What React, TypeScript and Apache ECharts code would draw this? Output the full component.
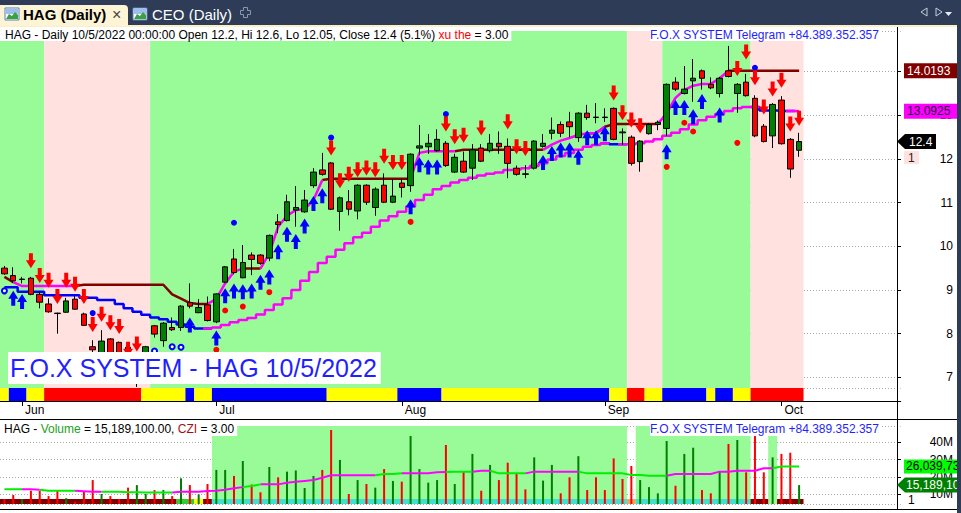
import React, { useEffect, useRef } from 'react';
import * as echarts from 'echarts';

// ---------------- data ----------------
const dates = [
  '5/30', '5/31',
  '6/1', '6/2', '6/3', '6/6', '6/7', '6/8', '6/9', '6/10', '6/13', '6/14', '6/15', '6/16', '6/17', '6/20', '6/21', '6/22', '6/23', '6/24', '6/27', '6/28', '6/29', '6/30',
  '7/1', '7/4', '7/5', '7/6', '7/7', '7/8', '7/11', '7/12', '7/13', '7/14', '7/15', '7/18', '7/19', '7/20', '7/21', '7/22', '7/25', '7/26', '7/27', '7/28', '7/29',
  '8/1', '8/2', '8/3', '8/4', '8/5', '8/8', '8/9', '8/10', '8/11', '8/12', '8/15', '8/16', '8/17', '8/18', '8/19', '8/22', '8/23', '8/24', '8/25', '8/26', '8/29', '8/30', '8/31',
  '9/5', '9/6', '9/7', '9/8', '9/9', '9/12', '9/13', '9/14', '9/15', '9/16', '9/19', '9/20', '9/21', '9/22', '9/23', '9/26', '9/27', '9/28', '9/29', '9/30',
  '10/3', '10/4', '10/5',
];
const monthTicks: [number, string][] = [[2, 'Jun'], [24, 'Jul'], [45, 'Aug'], [68, 'Sep'], [88, 'Oct']];

const open = [9.50, 9.33, 9.24, 9.27, 8.90, 8.68, 8.47, 8.49, 8.79, 8.45, 7.70, 7.50, 7.88, 7.80, 7.69, 7.20, 7.40, 8.18, 7.84, 8.14, 8.14, 8.71, 8.48, 8.66, 8.27, 9.18, 9.71, 9.28, 9.80, 9.80, 9.73, 10.56, 10.59, 10.83, 10.79, 11.39, 11.75, 11.91, 10.80, 11.02, 10.81, 11.40, 10.89, 11.40, 11.01, 11.45, 11.39, 12.25, 12.28, 12.19, 12.36, 11.70, 11.95, 11.79, 12.25, 12.19, 12.36, 12.29, 11.79, 11.66, 11.79, 12.29, 12.59, 12.79, 12.85, 12.49, 13.05, 12.96, 12.96, 13.16, 12.62, 12.50, 11.94, 12.58, 12.79, 12.70, 13.76, 13.50, 13.79, 14.02, 13.71, 13.50, 14.02, 13.50, 13.76, 13.39, 12.75, 12.53, 13.35, 12.45, 12.20];
const high = [9.55, 9.52, 9.30, 9.30, 8.96, 8.81, 8.48, 8.82, 8.86, 8.48, 7.85, 8.08, 7.90, 7.82, 7.72, 7.50, 7.72, 8.20, 8.26, 8.37, 8.65, 9.15, 8.79, 8.85, 8.92, 9.55, 9.94, 10.03, 9.86, 9.82, 10.27, 10.74, 11.18, 11.38, 11.29, 11.79, 12.14, 11.93, 11.14, 11.29, 11.42, 11.42, 11.35, 11.67, 11.54, 11.54, 12.13, 12.78, 12.57, 12.68, 12.41, 12.12, 12.17, 12.34, 12.34, 12.57, 12.63, 12.47, 11.85, 11.86, 12.43, 12.57, 12.95, 12.86, 13.08, 13.07, 13.24, 13.28, 13.16, 13.18, 12.70, 12.54, 12.43, 12.82, 12.88, 13.73, 13.87, 14.13, 14.29, 14.05, 13.87, 13.88, 14.59, 13.74, 13.95, 13.46, 12.80, 13.28, 13.44, 12.48, 12.60];
const low = [9.35, 9.16, 9.15, 8.88, 8.58, 8.48, 8.00, 8.48, 8.55, 8.18, 7.55, 7.45, 7.50, 7.45, 7.30, 6.78, 7.35, 7.91, 7.70, 8.06, 8.06, 8.58, 8.47, 8.28, 8.24, 9.16, 9.36, 9.27, 9.34, 9.58, 9.66, 10.30, 10.57, 10.45, 10.77, 11.34, 11.62, 10.83, 10.36, 10.71, 10.62, 10.95, 10.70, 10.99, 10.99, 11.12, 11.25, 12.09, 12.12, 12.17, 11.82, 11.68, 11.68, 11.52, 11.93, 12.15, 12.12, 11.56, 11.62, 11.56, 11.76, 12.26, 12.45, 12.50, 12.50, 12.39, 12.90, 12.82, 12.85, 12.43, 12.32, 11.85, 11.71, 12.56, 12.66, 12.53, 13.56, 13.48, 13.31, 13.59, 13.60, 13.41, 13.87, 13.06, 13.43, 12.50, 12.38, 12.25, 12.33, 11.57, 12.05];
const close = [9.37, 9.21, 9.25, 8.90, 8.72, 8.50, 8.46, 8.75, 8.56, 8.19, 7.63, 7.83, 7.55, 7.50, 7.40, 7.45, 7.70, 7.99, 8.24, 8.09, 8.63, 8.63, 8.60, 8.30, 8.91, 9.53, 9.40, 9.63, 9.70, 9.61, 10.25, 10.50, 11.02, 10.89, 11.06, 11.70, 11.65, 10.85, 11.11, 10.85, 11.40, 11.01, 11.31, 11.01, 11.15, 11.35, 12.11, 12.30, 12.36, 12.45, 11.85, 12.04, 11.70, 12.21, 11.95, 12.36, 12.28, 11.90, 11.65, 11.65, 12.41, 12.36, 12.66, 12.59, 12.74, 13.05, 12.95, 12.95, 12.95, 12.45, 12.60, 11.90, 12.41, 12.79, 12.84, 13.71, 13.60, 13.60, 13.85, 13.85, 13.63, 13.85, 13.89, 13.71, 13.45, 12.53, 12.40, 13.25, 12.35, 11.77, 12.40];

// volume in millions
const volumeM = [7.1, 9.4, 7.1, 11.9, 11.9, 8.8, 11.9, 7.6, 5.5, 11.3, 18.1, 10.0, 8.8, 7.1, 13.7, 15.2, 10.0, 12.3, 12.3, 8.8, 19.1, 15.2, 9.8, 15.8, 24.0, 24.0, 20.5, 29.2, 15.5, 11.0, 25.7, 19.7, 23.0, 23.7, 13.5, 20.5, 24.0, 47.2, 29.8, 10.0, 18.1, 15.8, 13.7, 24.5, 17.6, 17.2, 43.7, 24.5, 16.6, 18.1, 38.5, 15.8, 23.0, 33.3, 11.9, 26.9, 18.1, 28.2, 22.0, 12.7, 31.3, 17.8, 26.9, 10.4, 19.7, 32.0, 12.3, 19.7, 12.3, 30.7, 18.7, 26.3, 18.1, 14.0, 10.4, 40.8, 14.8, 33.3, 36.9, 12.3, 10.4, 23.4, 39.1, 41.4, 22.6, 43.7, 22.6, 31.3, 33.3, 34.0, 15.1891];
const volumeMA = [12.7, 12.7, 12.7, 12.7, 12.5, 11.9, 11.9, 11.9, 11.9, 11.6, 11.3, 11.3, 11.3, 11.3, 11.0, 11.0, 10.9, 10.9, 10.9, 10.9, 11.3, 11.3, 11.3, 11.7, 11.9, 12.5, 13.3, 14.0, 14.6, 15.6, 15.6, 15.6, 16.5, 17.1, 17.6, 18.1, 19.5, 20.9, 20.9, 20.9, 20.9, 20.9, 20.9, 21.6, 21.6, 22.0, 22.0, 22.0, 22.0, 22.6, 22.8, 23.0, 23.0, 23.0, 23.5, 23.5, 22.0, 22.0, 22.0, 22.0, 23.0, 23.0, 23.0, 23.0, 23.0, 23.0, 22.0, 22.0, 22.0, 22.0, 22.0, 21.0, 21.0, 20.6, 20.6, 20.6, 21.6, 21.6, 21.6, 21.6, 21.6, 23.0, 23.0, 23.5, 23.5, 23.5, 25.0, 25.0, 26.0, 26.0, 26.04];

const upperLine = [9.30, 9.18, 9.09, 9.09, 9.09, 9.09, 9.09, 9.09, 9.09, 9.12, 9.12, 9.12, 9.12, 9.12, 9.12, 9.12, 9.12, 9.12, 9.12, 8.90, 8.80, 8.70, 8.68, 8.68, 8.80, 9.15, 9.42, 9.49, 9.49, 9.49, 9.84, 10.45, 10.70, 10.83, 10.85, 11.06, 11.52, 11.55, 11.55, 11.55, 11.55, 11.55, 11.55, 11.55, 11.55, 11.55, 11.55, 12.14, 12.18, 12.18, 12.18, 12.18, 12.21, 12.21, 12.21, 12.21, 12.21, 12.21, 12.21, 12.21, 12.21, 12.21, 12.33, 12.42, 12.48, 12.55, 12.59, 12.59, 12.74, 12.80, 12.80, 12.80, 12.80, 12.80, 12.80, 13.05, 13.40, 13.58, 13.68, 13.72, 13.72, 13.85, 14.02, 14.02, 14.02, 14.02, 14.02, 14.02, 14.02, 14.02, 14.0193];
const lowerLine = [9.06, 9.06, 8.96, 8.96, 8.96, 8.88, 8.88, 8.88, 8.88, 8.82, 8.82, 8.77, 8.77, 8.68, 8.58, 8.50, 8.43, 8.37, 8.33, 8.27, 8.21, 8.16, 8.12, 8.12, 8.14, 8.20, 8.26, 8.31, 8.36, 8.44, 8.54, 8.67, 8.81, 9.00, 9.21, 9.41, 9.62, 9.76, 9.92, 10.07, 10.21, 10.31, 10.45, 10.59, 10.69, 10.79, 10.91, 11.06, 11.18, 11.31, 11.38, 11.46, 11.52, 11.57, 11.62, 11.66, 11.69, 11.75, 11.76, 11.79, 11.84, 11.90, 11.99, 12.07, 12.14, 12.21, 12.28, 12.32, 12.36, 12.34, 12.34, 12.34, 12.36, 12.40, 12.45, 12.53, 12.60, 12.68, 12.79, 12.89, 12.97, 13.03, 13.10, 13.16, 13.19, 13.19, 13.11, 13.11, 13.10, 13.10, 13.0925];

type Run = [number, number, string];
const upperColorRuns: Run[] = [[0, 1, 'R'], [2, 8, 'M'], [9, 23, 'R'], [24, 27, 'M'], [28, 29, 'R'], [30, 36, 'M'], [37, 46, 'R'], [47, 51, 'M'], [52, 61, 'R'], [62, 66, 'M'], [67, 67, 'R'], [68, 68, 'M'], [69, 74, 'R'], [75, 82, 'M'], [83, 90, 'R']];
const lowerColorRuns: Run[] = [[0, 23, 'B'], [24, 68, 'M'], [69, 70, 'B'], [71, 85, 'M'], [86, 89, 'B'], [90, 90, 'M']];
const volumeMAColorRuns: Run[] = [[0, 2, 'G'], [3, 4, 'M'], [5, 8, 'G'], [9, 11, 'M'], [12, 19, 'G'], [20, 27, 'M'], [28, 29, 'G'], [30, 42, 'M'], [43, 45, 'G'], [46, 50, 'M'], [51, 53, 'G'], [54, 55, 'M'], [56, 59, 'G'], [60, 65, 'M'], [66, 75, 'G'], [76, 87, 'M'], [88, 90, 'G']];
const priceBandRuns: Run[] = [[0, 4, 'G'], [5, 16, 'P'], [17, 70, 'G'], [71, 74, 'P'], [75, 84, 'G'], [85, 90, 'P']];
const volumeBandRuns: Run[] = [[24, 70, 'G'], [72, 84, 'G'], [87, 87, 'G']];
const priceRibbonRuns: Run[] = [[0, 0, 'Y'], [1, 2, 'B'], [3, 4, 'Y'], [5, 15, 'R'], [16, 20, 'Y'], [21, 21, 'B'], [22, 23, 'Y'], [24, 36, 'B'], [37, 44, 'Y'], [45, 49, 'B'], [50, 60, 'Y'], [61, 68, 'B'], [69, 70, 'Y'], [71, 72, 'R'], [73, 74, 'Y'], [75, 79, 'B'], [80, 80, 'Y'], [81, 82, 'B'], [83, 84, 'Y'], [85, 90, 'R']];
const volumeRibbonRuns: Run[] = [[0, 19, 'D'], [20, 21, 'G'], [22, 22, 'Y'], [23, 23, 'D'], [24, 70, 'C'], [71, 71, 'O'], [72, 84, 'C'], [85, 86, 'D'], [88, 90, 'D']];

const redDownArrows = [[3, 9.50], [4, 9.16], [5, 9.05], [6, 8.68], [7, 9.05], [8, 8.96], [9, 8.68], [10, 8.04], [11, 8.27], [12, 8.08], [13, 7.99], [14, 7.47], [15, 7.59], [37, 12.08], [38, 11.33], [39, 11.48], [40, 11.58], [41, 11.62], [42, 11.58], [43, 11.89], [44, 11.75], [45, 11.75], [50, 12.63], [51, 12.34], [52, 12.37], [54, 12.54], [57, 12.68], [58, 12.11], [59, 12.07], [69, 13.34], [70, 12.89], [71, 12.72], [72, 12.59], [83, 13.90], [84, 14.28], [85, 13.69], [86, 13.02], [87, 13.43], [88, 13.63], [89, 12.63], [90, 12.76]];
const blueUpArrows = [[1, 8.98], [2, 8.91], [21, 8.37], [24, 8.07], [25, 9.04], [26, 9.15], [27, 9.13], [28, 9.15], [29, 9.35], [30, 9.47], [31, 10.05], [32, 10.45], [33, 10.28], [34, 10.64], [35, 11.15], [36, 11.33], [46, 11.08], [47, 12.04], [48, 11.99], [49, 11.99], [61, 12.09], [62, 12.30], [63, 12.38], [64, 12.38], [65, 12.21], [66, 12.66], [67, 12.66], [68, 12.75], [75, 12.34], [76, 13.35], [77, 13.35], [78, 13.14], [79, 13.49], [81, 13.18]];
const redDots = [[24, 7.63], [25, 8.53], [27, 8.62], [30, 8.95], [46, 10.56], [75, 11.82], [77, 12.83], [78, 12.63], [83, 12.37]];
const blueDots = [[10, 8.47], [26, 10.54], [37, 12.49], [50, 13.03], [85, 14.09]];
const blueRings = [[0, 8.98], [17, 7.60], [19, 7.70], [20, 7.69]];

const tagUpper = 14.0193;
const tagLower = 13.0925;
const tagClose = 12.4;
const tagVolumeMA = 26039734;
const tagVolume = 15189100;

// ---------------- layout / style ----------------
const N = dates.length;
const PAD = 11;
const categories = dates.concat(Array.from({ length: PAD }, (_, k) => `+${k + 1}`));
const FF = '"Liberation Sans", Arial, Helvetica, sans-serif';
const GRID_W = 900.66;
const AXIS_SHIFT = -3.66;
const P_MIN = 6.755, P_MAX = 14.932;
const V_MIN = 4.19e6, V_MAX = 49.53e6;
const NAVY = '#2e3c58';
const tickIdx = new Map<number, string>(monthTicks);

const DOWN_ARROW = 'path://M3,0L7,0L7,7L10,7L5,15L0,7L3,7Z';
const UP_ARROW = 'path://M5,0L10,8L7,8L7,15L3,15L3,8L0,8Z';

function flags(runs: Run[]) {
  const f: string[] = new Array(N).fill('');
  runs.forEach(([s, e, c]) => { for (let i = s; i <= e; i++) f[i] = c; });
  return f;
}

function runSeries(runs: Run[], colors: Record<string, string>, axis: number, z: number) {
  return {
    type: 'custom', xAxisIndex: axis, yAxisIndex: axis, z, silent: true, clip: false,
    data: runs.map((r) => [r[0], r[1]]),
    renderItem: (params: any, api: any) => {
      const [s, e, c] = runs[params.dataIndex];
      const cs = params.coordSys;
      const bw = api.size([1, 0])[0];
      const x0 = api.coord([s, 0])[0] - bw / 2;
      const x1 = api.coord([e, 0])[0] + bw / 2;
      return { type: 'rect', shape: { x: x0, y: cs.y, width: x1 - x0, height: cs.height }, style: { fill: colors[c] } };
    },
  };
}

function coloredLines(values: number[], runs: Run[], colors: Record<string, string>, axis: number, z: number, width: number, step?: string) {
  const f = flags(runs);
  return Object.keys(colors).map((c) => ({
    type: 'line', xAxisIndex: axis, yAxisIndex: axis, z, silent: true, symbol: 'none', connectNulls: false,
    step: step || false,
    lineStyle: { color: colors[c], width },
    emphasis: { disabled: true },
    data: values.map((v, i) => (f[i] === c || f[i + 1] === c ? v : null)),
  }));
}

function scatter(data: number[][], symbol: string, size: any, color: string, offset: any, z = 6) {
  return {
    type: 'scatter', xAxisIndex: 0, yAxisIndex: 0, z, silent: true, symbol, symbolSize: size,
    symbolOffset: offset, itemStyle: { color, opacity: 1 }, emphasis: { disabled: true }, data,
  };
}

const hiddenX = (k: number) => ({ type: 'category', gridIndex: k, data: categories, boundaryGap: true, show: false });

const option: any = {
  animation: false,
  backgroundColor: '#ffffff',
  grid: [
    { left: 0, top: 31, width: GRID_W, height: 357, containLabel: false, outerBoundsMode: 'none' },
    { left: 0, top: 388, width: GRID_W, height: 13, containLabel: false, outerBoundsMode: 'none' },
    { left: 0, top: 426, width: GRID_W, height: 78, containLabel: false, outerBoundsMode: 'none' },
    { left: 0, top: 499, width: GRID_W, height: 5, containLabel: false, outerBoundsMode: 'none' },
  ],
  xAxis: [
    hiddenX(0),
    {
      type: 'category', gridIndex: 1, data: categories, boundaryGap: true,
      axisLine: { show: true, onZero: false, lineStyle: { color: '#000', width: 1 } },
      axisTick: { show: true, alignWithLabel: true, length: 5, interval: (i: number) => tickIdx.has(i), lineStyle: { color: '#000' } },
      axisLabel: {
        show: true, interval: (i: number) => tickIdx.has(i), formatter: (_v: string, i: number) => tickIdx.get(i) || '',
        color: '#000', fontSize: 12, fontFamily: FF, align: 'left', margin: 3, padding: [0, 0, 0, 3],
      },
      splitLine: { show: false },
    },
    hiddenX(2),
    hiddenX(3),
  ],
  yAxis: [
    {
      type: 'value', gridIndex: 0, position: 'right', offset: AXIS_SHIFT, min: P_MIN, max: P_MAX, splitNumber: 8,
      axisLine: { show: false }, axisTick: { show: true, length: 4, lineStyle: { color: '#000' } },
      axisLabel: { color: '#000', fontSize: 12, fontFamily: FF, align: 'right', margin: 56, showMinLabel: false, showMaxLabel: false },
      splitLine: { show: true, lineStyle: { color: '#a8a8a8', type: [1, 2], width: 1 } },
    },
    { type: 'value', gridIndex: 1, min: 0, max: 1, show: false },
    {
      type: 'value', gridIndex: 2, position: 'right', offset: AXIS_SHIFT, min: V_MIN, max: V_MAX, splitNumber: 4,
      axisLine: { show: false }, axisTick: { show: true, length: 4, lineStyle: { color: '#000' } },
      axisLabel: { color: '#000', fontSize: 12, fontFamily: FF, align: 'right', margin: 56, showMinLabel: false, showMaxLabel: false, formatter: (v: number) => `${Math.round(v / 1e6)}M` },
      splitLine: { show: true, lineStyle: { color: '#a8a8a8', type: [1, 2], width: 1 } },
    },
    { type: 'value', gridIndex: 3, min: 0, max: 1, show: false },
  ],
  series: [
    runSeries(priceBandRuns, { G: '#98fb98', P: '#ffe2df' }, 0, 1),
    ...coloredLines(upperLine, upperColorRuns, { R: '#800000', M: '#ff00ff' }, 0, 3, 2.5),
    ...coloredLines(lowerLine, lowerColorRuns, { B: '#0000ff', M: '#ff00ff' }, 0, 3, 2.5, 'middle'),
    {
      type: 'candlestick', xAxisIndex: 0, yAxisIndex: 0, z: 4, silent: true, barWidth: 6,
      itemStyle: { color: '#008000', color0: '#ff0000', borderColor: '#000000', borderColor0: '#000000', borderColorDoji: '#000000', borderWidth: 1 },
      emphasis: { disabled: true },
      data: dates.map((_, i) => [open[i], close[i], low[i], high[i]]),
    },
    scatter(redDots, 'circle', 6, '#ff0000', [0, 0]),
    scatter(blueDots, 'circle', 6, '#0000ff', [0, 0]),
    scatter(blueRings, 'emptyCircle', 5, '#0000ff', [0, 0]),
    scatter(blueUpArrows, UP_ARROW, [10, 15], '#0000ff', [0, 7.5]),
    scatter(redDownArrows, DOWN_ARROW, [10, 15], '#ff0000', [0, -7.5]),
    runSeries(priceRibbonRuns, { Y: '#ffff00', B: '#0000ff', R: '#ff0000' }, 1, 2),
    runSeries(volumeBandRuns, { G: '#98fb98' }, 2, 1),
    runSeries(volumeRibbonRuns, { D: '#800000', G: '#33cc33', Y: '#ffff00', C: '#40e0d0', O: '#f4a460' }, 3, 2),
    {
      type: 'bar', xAxisIndex: 2, yAxisIndex: 2, z: 3, silent: true, barWidth: 2,
      emphasis: { disabled: true },
      data: volumeM.map((v, i) => ({ value: v * 1e6, itemStyle: { color: close[i] >= open[i] ? '#008000' : '#ff0000' } })),
    },
    ...coloredLines(volumeMA.map((v) => v * 1e6), volumeMAColorRuns, { G: '#00ee00', M: '#ff00ff' }, 2, 4, 2),
  ],
};

// ---------------- graphics helpers ----------------
const txt = (x: number, y: number, text: string, o: any = {}) => ({
  type: 'text', x, y, z: o.z ?? 102, silent: true,
  style: {
    text, fill: o.fill ?? '#000', fontSize: o.size ?? 12, fontFamily: FF, fontWeight: o.weight ?? 'normal',
    align: o.align ?? 'left', textAlign: o.align ?? 'left',
    verticalAlign: o.va ?? 'middle', textVerticalAlign: o.va ?? 'middle',
    ...(o.style || {}),
  },
});

const icon = (x: number, y: number) => [
  { type: 'rect', z: 101, silent: true, shape: { x, y, width: 14, height: 12 }, style: { fill: '#ffffff', stroke: '#5b7fb8', lineWidth: 1 } },
  { type: 'rect', z: 101, silent: true, shape: { x: x + 1, y: y + 1, width: 12, height: 5 }, style: { fill: '#9cc0ee' } },
  { type: 'polygon', z: 101, silent: true, shape: { points: [[x + 1, y + 11], [x + 4, y + 6], [x + 7, y + 8], [x + 10, y + 4], [x + 13, y + 7], [x + 13, y + 11]] }, style: { fill: '#3aa040' } },
];

const staticGraphics: any[] = [
  { type: 'rect', z: 100, silent: true, shape: { x: 0, y: 0, width: 961, height: 25 }, style: { fill: NAVY } },
  { type: 'rect', z: 100, silent: true, shape: { x: 0, y: 25, width: 961, height: 2 }, style: { fill: '#fbefc8' } },
  { type: 'rect', z: 100, silent: true, shape: { x: 0, y: 5, width: 128, height: 21, r: [0, 4, 0, 0] }, style: { fill: '#fdf4d6' } },
  ...icon(5, 8),
  txt(23, 14, 'HAG (Daily)', { size: 15, weight: 'bold' }),
  txt(112, 14, '×', { size: 16, fill: '#444' }),
  ...icon(133, 8),
  txt(152, 14, 'CEO (Daily)', { size: 15, fill: '#ffffff' }),
  { type: 'polygon', z: 101, silent: true, shape: { points: [[243.5, 7.5], [247.5, 7.5], [247.5, 10.5], [250.5, 10.5], [250.5, 14.5], [247.5, 14.5], [247.5, 17.5], [243.5, 17.5], [243.5, 14.5], [240.5, 14.5], [240.5, 10.5], [243.5, 10.5]] }, style: { fill: 'none', stroke: '#8d97ab', lineWidth: 1 } },
  { type: 'polygon', z: 101, silent: true, shape: { points: [[927, 8], [921, 12], [927, 16]] }, style: { fill: 'none', stroke: '#c8cfdc', lineWidth: 1 } },
  { type: 'polygon', z: 101, silent: true, shape: { points: [[936, 8], [942, 12], [936, 16]] }, style: { fill: 'none', stroke: '#c8cfdc', lineWidth: 1 } },
  { type: 'polygon', z: 101, silent: true, shape: { points: [[945, 12], [952, 12], [948.5, 16]] }, style: { fill: '#e8ecf4' } },
  // frame lines
  { type: 'line', z: 100, silent: true, shape: { x1: 897.5, y1: 27, x2: 897.5, y2: 510 }, style: { stroke: '#000', lineWidth: 1 } },
  { type: 'line', z: 100, silent: true, shape: { x1: 0, y1: 419.5, x2: 957, y2: 419.5 }, style: { stroke: '#000', lineWidth: 1 } },
  { type: 'line', z: 100, silent: true, shape: { x1: 0, y1: 509.5, x2: 957, y2: 509.5 }, style: { stroke: '#000', lineWidth: 1 } },
  // headers
  {
    type: 'text', x: 0, y: 28, z: 102, silent: true,
    style: {
      text: '{a|HAG - Daily 10/5/2022 00:00:00 Open 12.2, Hi 12.6, Lo 12.05, Close 12.4 (5.1%) }{r|xu the}{a| = 3.00}',
      rich: { a: { fill: '#000', fontSize: 12, fontFamily: FF, lineHeight: 13 }, r: { fill: '#ff0000', fontSize: 12, fontFamily: FF, lineHeight: 13 } },
      backgroundColor: '#ffffff', padding: [0, 3, 0, 5], verticalAlign: 'top', textVerticalAlign: 'top',
    },
  },
  txt(650, 28, 'F.O.X SYSTEM Telegram +84.389.352.357', { fill: '#1f1fff', va: 'top', style: { backgroundColor: '#ffffff', lineHeight: 13, padding: [0, 2, 0, 0] } }),
  {
    type: 'text', x: 0, y: 422, z: 102, silent: true,
    style: {
      text: '{a|HAG - }{g|Volume}{a| = 15,189,100.00, }{r|CZI}{a| = 3.00}',
      rich: {
        a: { fill: '#000', fontSize: 12, fontFamily: FF, lineHeight: 14 },
        g: { fill: '#22a022', fontSize: 12, fontFamily: FF, lineHeight: 14 },
        r: { fill: '#a01010', fontSize: 12, fontFamily: FF, lineHeight: 14 },
      },
      backgroundColor: '#ffffff', padding: [0, 3, 0, 4], verticalAlign: 'top', textVerticalAlign: 'top',
    },
  },
  txt(650, 422, 'F.O.X SYSTEM Telegram +84.389.352.357', { fill: '#1f1fff', va: 'top', style: { backgroundColor: '#ffffff', lineHeight: 14, padding: [0, 2, 0, 0] } }),
  txt(8, 352, 'F.O.X SYSTEM - HAG 10/5/2022', { fill: '#1f1fff', size: 25, va: 'top', style: { backgroundColor: '#ffffff', lineHeight: 26, padding: [3, 4, 3, 2] } }),
];

export default function App() {
  const ref = useRef<HTMLDivElement>(null);
  useEffect(() => {
    const chart = echarts.init(ref.current!, undefined, { renderer: 'svg' });
    chart.setOption(option);
    const py = (v: number) => chart.convertToPixel({ yAxisIndex: 0 } as any, v) as unknown as number;
    const vy = (v: number) => chart.convertToPixel({ yAxisIndex: 2 } as any, v) as unknown as number;
    const yU = py(tagUpper), yL = py(tagLower), yC = py(tagClose);
    const yVM = vy(tagVolumeMA), yV = vy(tagVolume);
    const tags: any[] = [
      { type: 'rect', z: 103, silent: true, shape: { x: 904, y: yU - 7.5, width: 53, height: 15 }, style: { fill: '#800000' } },
      txt(907, yU, tagUpper.toFixed(4), { fill: '#ffffff', z: 104 }),
      { type: 'rect', z: 103, silent: true, shape: { x: 904, y: yL - 7.5, width: 53, height: 15 }, style: { fill: '#ff00ff' } },
      txt(907, yL, tagLower.toFixed(4), { fill: '#1a1a3a', z: 104 }),
      { type: 'polygon', z: 103, silent: true, shape: { points: [[897, yC], [905, yC - 7.5], [936, yC - 7.5], [936, yC + 7.5], [905, yC + 7.5]] }, style: { fill: '#000000' } },
      txt(909, yC, String(tagClose), { fill: '#ffffff', z: 104 }),
      { type: 'rect', z: 103, silent: true, shape: { x: 904, y: yC + 9.5, width: 15, height: 13 }, style: { fill: '#ffe2df' } },
      txt(908, yC + 16, '1', { fill: '#222', z: 104 }),
      { type: 'rect', z: 103, silent: true, shape: { x: 904, y: yVM - 7, width: 57, height: 14 }, style: { fill: '#00ff00' } },
      txt(906, yVM, tagVolumeMA.toLocaleString('en-US'), { fill: '#000', z: 104 }),
      { type: 'polygon', z: 103, silent: true, shape: { points: [[897, yV], [905, yV - 7.5], [961, yV - 7.5], [961, yV + 7.5], [905, yV + 7.5]] }, style: { fill: '#008000' } },
      txt(906, yV, tagVolume.toLocaleString('en-US'), { fill: '#ffffff', z: 104 }),
      txt(908, 500, '1', { fill: '#000', z: 104 }),
      { type: 'rect', z: 110, silent: true, shape: { x: 957, y: 25, width: 4, height: 488 }, style: { fill: NAVY } },
    ];
    chart.setOption({ graphic: { elements: [...staticGraphics, ...tags] } });
    return () => chart.dispose();
  }, []);
  return <div ref={ref} style={{ position: 'fixed', left: 0, top: 0, width: 961, height: 513 }} />;
}
